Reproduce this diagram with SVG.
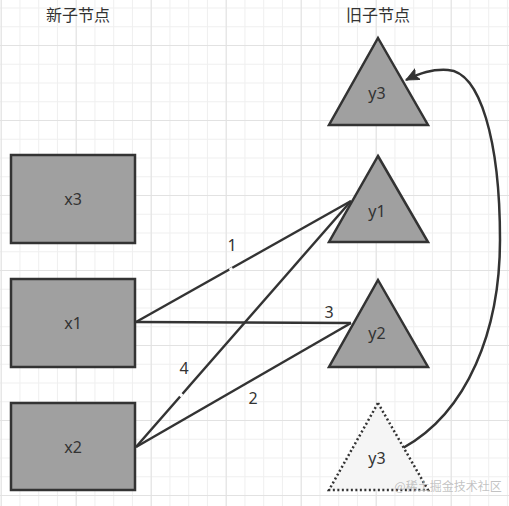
<svg xmlns="http://www.w3.org/2000/svg" width="509" height="506" viewBox="0 0 509 506">
  <defs>
    <pattern id="minor" x="0.7" y="-30" width="18.75" height="18.75" patternUnits="userSpaceOnUse">
      <path d="M0.5,0 V18.75 M0,0.5 H18.75" fill="none" stroke="#efefef" stroke-width="1"/>
    </pattern>
    <pattern id="major" x="0.7" y="-30" width="75" height="75" patternUnits="userSpaceOnUse">
      <path d="M0.5,0 V75 M0,0.5 H75" fill="none" stroke="#e2e2e2" stroke-width="1"/>
    </pattern>
    <marker id="arrow" markerUnits="userSpaceOnUse" markerWidth="16" markerHeight="14" refX="13" refY="6" orient="auto">
      <path d="M0,0 L13,6 L0,12 L3,6 Z" fill="#333" stroke="#333" stroke-width="1"/>
    </marker>
    <style>
      .node { fill: #a0a0a0; stroke: #333; stroke-width: 2.5; }
      .ghost { fill: #f5f5f5; stroke: #333; stroke-width: 2.5; stroke-dasharray: 2 2.5; }
      .lbl { font-family: "Noto Sans", "Noto Sans CJK SC", sans-serif; font-size: 16px; fill: #333; text-anchor: middle; }
      .title { font-family: "Noto Sans CJK SC", "Noto Sans", sans-serif; font-size: 16px; fill: #333; text-anchor: middle; }
      .edge { fill: none; stroke: #333; stroke-width: 2.5; }
      .elbl { font-family: "Noto Sans", sans-serif; font-size: 16px; fill: #333; text-anchor: middle; }
    </style>
  </defs>
  <rect width="509" height="506" fill="#ffffff"/>
  <rect width="509" height="506" fill="url(#minor)"/>
  <rect width="509" height="506" fill="url(#major)"/>

  <text class="title" x="78" y="21">新子节点</text>
  <text class="title" x="378" y="21">旧子节点</text>

  <g id="connectors">
    <line class="edge" x1="136" y1="322" x2="351" y2="201"/>
    <line class="edge" x1="136" y1="322" x2="351" y2="323"/>
    <line class="edge" x1="136" y1="447" x2="351" y2="201"/>
    <line class="edge" x1="136" y1="447" x2="351" y2="323"/>
    <line x1="229.5" y1="270" x2="232.5" y2="268.3" stroke="#fff" stroke-width="3"/>
    <line x1="180" y1="396.5" x2="182.3" y2="393.8" stroke="#fff" stroke-width="3"/>
    <path class="edge" d="M403,448 C468,412 500,330 500,240 C500,140 480,72 448,70 C432,69 420,73 406,80" marker-end="url(#arrow)"/>
    <text class="elbl" x="232" y="251">1</text>
    <text class="elbl" x="253" y="404">2</text>
    <text class="elbl" x="329" y="318">3</text>
    <text class="elbl" x="184" y="374">4</text>
  </g>

  <g id="x3">
    <rect class="node" x="11" y="155" width="124" height="88"/>
    <text class="lbl" x="73" y="205">x3</text>
  </g>
  <g id="x1">
    <rect class="node" x="11" y="279" width="124" height="88"/>
    <text class="lbl" x="73" y="329">x1</text>
  </g>
  <g id="x2">
    <rect class="node" x="11" y="403" width="124" height="87"/>
    <text class="lbl" x="73" y="453">x2</text>
  </g>

  <g id="y3-old">
    <polygon class="node" points="378,38 428,125 329,125"/>
    <text class="lbl" x="377" y="99">y3</text>
  </g>
  <g id="y1">
    <polygon class="node" points="378,156 428,242 329,242"/>
    <text class="lbl" x="377" y="217">y1</text>
  </g>
  <g id="y2">
    <polygon class="node" points="378,280 428,367 329,367"/>
    <text class="lbl" x="377" y="339">y2</text>
  </g>
  <g id="y3-new">
    <polygon class="ghost" points="378,403 428,490 329,490"/>
    <text class="lbl" x="377" y="464">y3</text>
  </g>

  <text x="448" y="491" font-family="Noto Sans CJK SC, Noto Sans, sans-serif" font-size="12" fill="#b8b8b8" fill-opacity="0.85" text-anchor="middle">@稀土掘金技术社区</text>
</svg>
